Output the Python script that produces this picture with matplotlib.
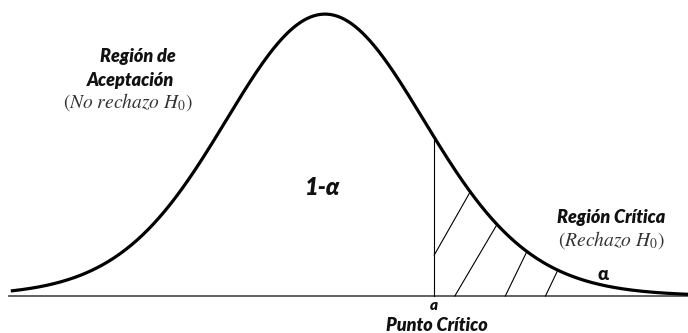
import numpy as np
import matplotlib
matplotlib.use("Agg")
import matplotlib.pyplot as plt

plt.rcParams['mathtext.fontset'] = 'stix'

# Student-t shaped density (nearly normal), peak scaled to 1
DF = 20
Z_CRIT = 1.06
Z_MIN, Z_MAX = -3.05, 3.55

# hatch strokes in the rejection tail: (z start, height at start, z end on curve)
hatch_start = [1.06, 1.26, 1.75, 2.14]
hatch_start_h = [0.145, 0.0, 0.0, 0.0]
hatch_end = [1.41, 1.67, 1.96, 2.26]


def density(z):
    return (1 + np.asarray(z) ** 2 / DF) ** (-(DF + 1) / 2)


fig = plt.figure(figsize=(6.88, 3.33), dpi=100)
ax = fig.add_axes([0, 0, 1, 1])
ax.set_xlim(-3.155, 3.524)
ax.set_ylim(-0.131, 1.05)
ax.axis('off')

z = np.linspace(Z_MIN, Z_MAX, 600)
ax.plot(z, density(z), color='black', lw=2.3, solid_capstyle='butt', zorder=3)

# baseline
ax.plot([-3.07, 3.524], [0, 0], color='#555555', lw=1.3, zorder=2)

# critical value line and hatching
ax.plot([Z_CRIT, Z_CRIT], [0, density(Z_CRIT) - 0.01], color='black', lw=0.8)
for zs, hs, ze in zip(hatch_start, hatch_start_h, hatch_end):
    ax.plot([zs, ze], [hs, density(ze)], color='black', lw=0.8)

bi = dict(fontfamily=['Lato', 'DejaVu Sans'], fontweight='heavy', fontstyle='italic',
          ha='center', va='center', color='#111111')

ax.text(-1.82, 0.848, 'Región de', fontsize=13, **bi)
ax.text(-1.89, 0.766, 'Aceptación', fontsize=13, **bi)
ax.text(-1.91, 0.687, r'$(No\ rechazo\ H_0)$', fontsize=14, ha='center', va='center',
        color='#333333')

ax.text(-0.02, 0.385, '1-α', fontsize=17, **bi)

ax.text(2.78, 0.28, 'Región Crítica', fontsize=13, **bi)
ax.text(2.78, 0.197, r'$(Rechazo\ H_0)$', fontsize=14, ha='center', va='center',
        color='#333333')
ax.text(2.70, 0.075, 'α', fontsize=13, fontweight='heavy', ha='center', va='center',
        fontfamily=['Lato', 'DejaVu Sans'], color='#111111')

ax.text(Z_CRIT, -0.035, 'a', fontsize=11, **bi)
ax.text(1.09, -0.103, 'Punto Crítico', fontsize=13, **bi)

fig.savefig('out.png', dpi=100)
